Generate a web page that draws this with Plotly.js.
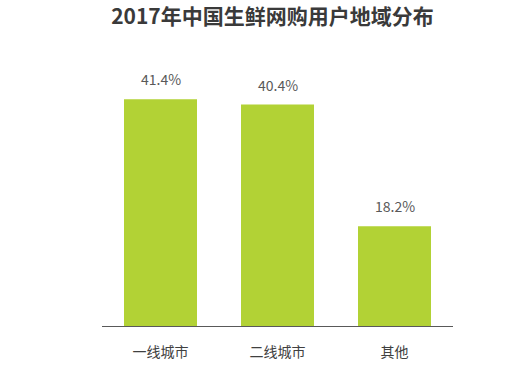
<!DOCTYPE html>
<html>
<head>
<meta charset="utf-8">
<script src="https://cdn.plot.ly/plotly-3.0.1.min.js"></script>
<style>html,body{margin:0;padding:0;background:#fff;}#chart{width:526px;height:367px;}</style>
</head>
<body>
<div id="chart"></div>
<script>
const categories = ["一线城市", "二线城市", "其他"];
const values = [41.4, 40.4, 18.2];
const valueLabels = ["41.4%", "40.4%", "18.2%"];

const font = "'Microsoft YaHei', 'Noto Sans CJK SC', sans-serif";

const trace = {
  type: "bar",
  x: categories,
  y: values,
  marker: {color: "#b2d235"},
  hoverinfo: "skip"
};

const annotations = categories.map((c, i) => ({
  x: c, y: values[i], xref: "x", yref: "y",
  text: valueLabels[i], showarrow: false,
  yanchor: "bottom", yshift: 8,
  font: {family: font, size: 14, color: "#595959"}
}));

const layout = {
  width: 526, height: 367,
  margin: {l: 102, r: 73, t: 52, b: 41},
  paper_bgcolor: "#fff", plot_bgcolor: "#fff",
  bargap: 0.376,
  showlegend: false,
  title: {
    text: "<b>2017年中国生鲜网购用户地域分布</b>",
    x: 0.518, xanchor: "center", y: 0.955, yanchor: "middle",
    font: {family: font, size: 21, color: "#3a3a3a"}
  },
  xaxis: {
    showline: true, linecolor: "#595959", linewidth: 1,
    ticks: "", ticklabelstandoff: 13,
    tickfont: {family: font, size: 14, color: "#404040"},
    showgrid: false, zeroline: false, fixedrange: true
  },
  yaxis: {
    range: [0, 50], visible: false, showgrid: false, zeroline: false, fixedrange: true
  },
  annotations: annotations
};

Plotly.newPlot("chart", [trace], layout, {displayModeBar: false, staticPlot: true});
</script>
</body>
</html>
